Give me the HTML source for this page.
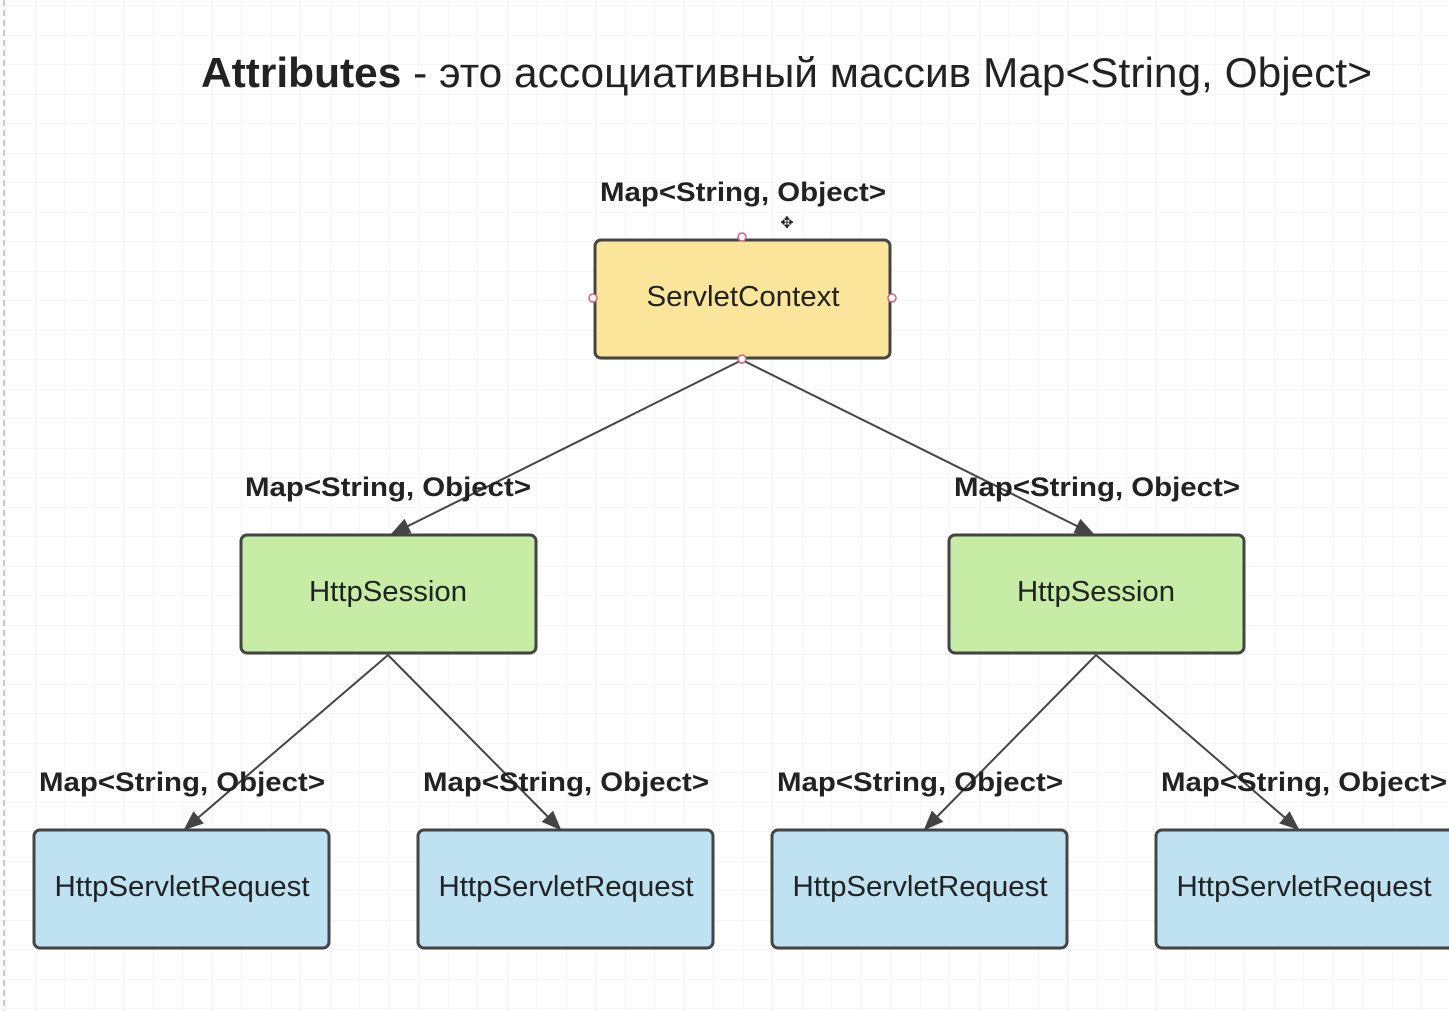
<!DOCTYPE html>
<html><head><meta charset="utf-8"><style>
html,body{margin:0;padding:0;background:#fff;}
svg{display:block;}
text{font-family:"Liberation Sans",sans-serif;}
</style></head><body>
<svg width="1449" height="1011" viewBox="0 0 1449 1011" xmlns="http://www.w3.org/2000/svg">
<defs>
<pattern id="g" width="29.5" height="29.5" patternUnits="userSpaceOnUse" x="6" y="6">
<path d="M29.5 0V29.5M0 29.5H29.5" stroke="#ececec" stroke-width="1" fill="none"/>
</pattern>
<marker id="a" markerWidth="20" markerHeight="16" refX="18" refY="8" orient="auto" markerUnits="userSpaceOnUse" viewBox="0 0 20 16">
<path d="M0,0 L20,8 L0,16 z" fill="#444"/>
</marker>
</defs>
<rect width="1449" height="1011" fill="url(#g)"/>
<line x1="4" y1="0" x2="4" y2="1011" stroke="#ccc" stroke-width="2" stroke-dasharray="6,4"/>
<text x="201" y="87" font-size="42" fill="#222" textLength="1171" lengthAdjust="spacingAndGlyphs"><tspan font-weight="bold">Attributes</tspan> - это ассоциативный массив Map&lt;String, Object&gt;</text>
<g stroke="#444" stroke-width="2" fill="none">
<line x1="742" y1="360" x2="392" y2="534" marker-end="url(#a)"/>
<line x1="742" y1="360" x2="1093" y2="534" marker-end="url(#a)"/>
<line x1="388" y1="655" x2="185" y2="829" marker-end="url(#a)"/>
<line x1="388" y1="655" x2="560" y2="829" marker-end="url(#a)"/>
<line x1="1096" y1="655" x2="925" y2="829" marker-end="url(#a)"/>
<line x1="1096" y1="655" x2="1298" y2="829" marker-end="url(#a)"/>
</g>
<g stroke="#444" stroke-width="3">
<rect x="595" y="240" width="295" height="118" rx="6" fill="#fbe59b"/>
<rect x="241" y="535" width="295" height="118" rx="6" fill="#c6eca6"/>
<rect x="949" y="535" width="295" height="118" rx="6" fill="#c6eca6"/>
<rect x="34" y="830" width="295" height="118" rx="6" fill="#bfe2f3"/>
<rect x="418" y="830" width="295" height="118" rx="6" fill="#bfe2f3"/>
<rect x="772" y="830" width="295" height="118" rx="6" fill="#bfe2f3"/>
<rect x="1156" y="830" width="300" height="118" rx="6" fill="#bfe2f3"/>
</g>
<g fill="#fff" stroke="#d06080" stroke-width="1.5">
<circle cx="742" cy="237" r="4"/><circle cx="742" cy="359" r="4"/>
<circle cx="593" cy="298" r="4"/><circle cx="892" cy="298" r="4"/>
</g>
<text x="787" y="228" font-size="16" text-anchor="middle" fill="#222">✥</text>
<g font-size="29" fill="#222" text-anchor="middle" lengthAdjust="spacingAndGlyphs">
<text x="743" y="306" textLength="193" lengthAdjust="spacingAndGlyphs">ServletContext</text>
<text x="388" y="601" textLength="158" lengthAdjust="spacingAndGlyphs">HttpSession</text>
<text x="1096" y="601" textLength="158" lengthAdjust="spacingAndGlyphs">HttpSession</text>
<text x="182" y="896" textLength="255" lengthAdjust="spacingAndGlyphs">HttpServletRequest</text>
<text x="566" y="896" textLength="255" lengthAdjust="spacingAndGlyphs">HttpServletRequest</text>
<text x="920" y="896" textLength="255" lengthAdjust="spacingAndGlyphs">HttpServletRequest</text>
<text x="1304" y="896" textLength="255" lengthAdjust="spacingAndGlyphs">HttpServletRequest</text>
</g>
<g font-size="27" font-weight="bold" fill="#222" text-anchor="middle">
<text x="743" y="201" textLength="286" lengthAdjust="spacingAndGlyphs">Map&lt;String, Object&gt;</text>
<text x="388" y="496" textLength="286" lengthAdjust="spacingAndGlyphs">Map&lt;String, Object&gt;</text>
<text x="1097" y="496" textLength="286" lengthAdjust="spacingAndGlyphs">Map&lt;String, Object&gt;</text>
<text x="182" y="791" textLength="286" lengthAdjust="spacingAndGlyphs">Map&lt;String, Object&gt;</text>
<text x="566" y="791" textLength="286" lengthAdjust="spacingAndGlyphs">Map&lt;String, Object&gt;</text>
<text x="920" y="791" textLength="286" lengthAdjust="spacingAndGlyphs">Map&lt;String, Object&gt;</text>
<text x="1304" y="791" textLength="286" lengthAdjust="spacingAndGlyphs">Map&lt;String, Object&gt;</text>
</g>
</svg>
</body></html>
